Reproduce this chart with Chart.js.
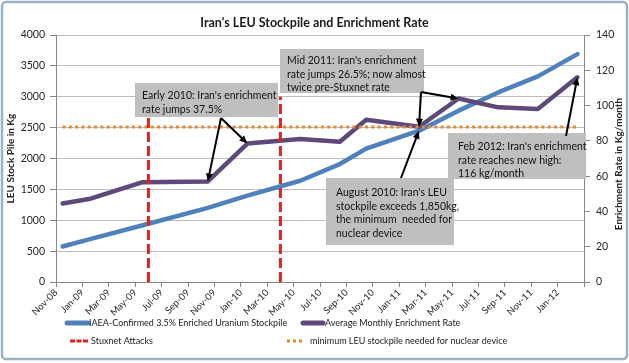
<!DOCTYPE html>
<html>
<head>
<meta charset="utf-8">
<script src="https://cdn.jsdelivr.net/npm/chart.js@4.4.1/dist/chart.umd.min.js"></script>
<style>
  html, body { margin: 0; padding: 0; background: #fff; }
  #wrap { width: 629px; height: 363px; }
</style>
</head>
<body>
<div id="wrap"><canvas id="chart" width="629" height="363"></canvas></div>
<script>
// x axis labels, one every two months
const tickLabels = ['Nov-08', 'Jan-09', 'Mar-09', 'May-09', 'Jul-09', 'Sep-09', 'Nov-09', 'Jan-10', 'Mar-10', 'May-10',
    'Jul-10', 'Sep-10', 'Nov-10', 'Jan-11', 'Mar-11', 'May-11', 'Jul-11', 'Sep-11', 'Nov-11', 'Jan-12'];

// IAEA report months
const reportMonths = ['Nov-08', 'Jan-09', 'May-09', 'Oct-09', 'Jan-10', 'May-10', 'Aug-10', 'Oct-10', 'Feb-11', 'May-11', 'Aug-11', 'Nov-11', 'Feb-12'];
// LEU stockpile, kg (left axis)
const stockpileKg = [575, 690, 915, 1200, 1400, 1640, 1910, 2160, 2450, 2775, 3070, 3330, 3690];
// enrichment rate, kg/month (right axis)
const enrichRate = [44.5, 47, 56.5, 57, 78.5, 81, 79.5, 92, 88, 104, 99, 98, 116];

const stuxnetMonths = ['Jun-09', 'Apr-10'];
const stuxnetTop = 3000;
const minLeuKg = 2510;

const FONT = "Lato, 'Liberation Sans', sans-serif";
const MON = ['Jan', 'Feb', 'Mar', 'Apr', 'May', 'Jun', 'Jul', 'Aug', 'Sep', 'Oct', 'Nov', 'Dec'];

// months since start of Nov-08
function monthIndex(s) {
    const [m, y] = s.split('-');
    return (2000 + Number(y)) * 12 + MON.indexOf(m) - (2008 * 12 + 10);
}

const stockPoints = reportMonths.map((m, i) => ({ x: monthIndex(m) + 0.5, y: stockpileKg[i] }));
const ratePoints = reportMonths.map((m, i) => ({ x: monthIndex(m) + 0.5, y: enrichRate[i] }));
const stuxnetPoints = stuxnetMonths.flatMap(m => [
    { x: monthIndex(m), y: 0 }, { x: monthIndex(m), y: stuxnetTop }, { x: monthIndex(m), y: null }
]);
const minLeuPoints = [
    { x: monthIndex(reportMonths[0]) + 0.5, y: minLeuKg },
    { x: monthIndex(reportMonths[reportMonths.length - 1]) + 0.5, y: minLeuKg }
];

// call-out boxes (pixels) with arrows to data points
const notes = [
    { lines: ["Early 2010: Iran's enrichment", 'rate jumps 37.5%'], box: [135, 83, 143, 34], textX: 142, textY: 96,
      from: [221, 118], to: [[1, 'Oct-09'], [1, 'Jan-10']] },
    { lines: ["Mid 2011: Iran's enrichment", 'rate jumps 26.5%; now almost', 'twice pre-Stuxnet rate'], box: [280, 49, 144, 44], textX: 287, textY: 61,
      from: [421, 92], to: [[1, 'Feb-11'], [1, 'May-11']] },
    { lines: ["Feb 2012: Iran's enrichment", 'rate reaches new high:', '116 kg/month'], box: [448, 133, 138, 46], textX: 458, textY: 147,
      from: [566, 136], to: [[1, 'Feb-12']] },
    { lines: ["August 2010: Iran's LEU", 'stockpile exceeds 1,850kg,', 'the minimum  needed for', 'nuclear device'], box: [326, 178, 128, 67], textX: 336, textY: 193,
      from: [401, 178], to: [[0, 'Feb-11']] }
];

// legend slots: swatch start, length, text start
const legendSlots = [
    { x: 67, y: 323, len: 21, tx: 89 },
    { x: 303, y: 323, len: 20, tx: 325 },
    { x: 70, y: 341, len: 18, tx: 91 },
    { x: 287, y: 341, len: 16, tx: 310 }
];

function arrow(ctx, x1, y1, x2, y2) {
    const a = Math.atan2(y2 - y1, x2 - x1);
    const head = 8;
    ctx.beginPath();
    ctx.moveTo(x1, y1);
    ctx.lineTo(x2 - Math.cos(a) * head * 0.8, y2 - Math.sin(a) * head * 0.8);
    ctx.stroke();
    ctx.beginPath();
    ctx.moveTo(x2, y2);
    ctx.lineTo(x2 - head * Math.cos(a) + 3.5 * Math.sin(a), y2 - head * Math.sin(a) - 3.5 * Math.cos(a));
    ctx.lineTo(x2 - head * Math.cos(a) - 3.5 * Math.sin(a), y2 - head * Math.sin(a) + 3.5 * Math.cos(a));
    ctx.closePath();
    ctx.fill();
}

const extras = {
    id: 'extras',
    afterDatasetsDraw(chart) {
        const ctx = chart.ctx;
        ctx.save();
        ctx.font = '10.5px ' + FONT;
        ctx.textBaseline = 'middle';
        notes.forEach(n => {
            ctx.fillStyle = '#bfbfbf';
            ctx.fillRect(...n.box);
            ctx.fillStyle = '#111';
            n.lines.forEach((t, i) => ctx.fillText(t, n.textX, n.textY + i * 13.5));
        });
        ctx.strokeStyle = '#000';
        ctx.fillStyle = '#000';
        ctx.lineWidth = 2;
        notes.forEach(n => {
            n.to.forEach(([ds, month]) => {
                const el = chart.getDatasetMeta(ds).data[reportMonths.indexOf(month)];
                arrow(ctx, n.from[0], n.from[1], el.x, el.y);
            });
        });
        ctx.restore();
    },
    afterDraw(chart) {
        const ctx = chart.ctx;
        ctx.save();
        // right axis title, reading bottom to top
        ctx.font = 'bold 10px ' + FONT;
        ctx.fillStyle = '#262626';
        ctx.textAlign = 'center';
        ctx.textBaseline = 'middle';
        ctx.translate(619, 164);
        ctx.rotate(-Math.PI / 2);
        ctx.fillText('Enrichment Rate in Kg/month', 0, 0);
        ctx.restore();

        // legend
        ctx.save();
        ctx.font = '9px ' + FONT;
        ctx.textBaseline = 'middle';
        chart.data.datasets.forEach((ds, i) => {
            const s = legendSlots[i];
            ctx.strokeStyle = ds.borderColor;
            ctx.lineWidth = ds.legendWidth;
            ctx.lineCap = ds.borderDash ? 'butt' : 'round';
            ctx.setLineDash(ds.legendDash || []);
            ctx.beginPath();
            ctx.moveTo(s.x, s.y);
            ctx.lineTo(s.x + s.len, s.y);
            ctx.stroke();
            ctx.setLineDash([]);
            ctx.fillStyle = '#1a1a1a';
            ctx.fillText(ds.label, s.tx, s.y);
        });

        // chart frame
        ctx.strokeStyle = '#9cb0c8';
        ctx.lineWidth = 2.5;
        ctx.beginPath();
        ctx.roundRect(2, 2, 625, 357, 4);
        ctx.stroke();
        ctx.restore();
    }
};

const tickFont = { family: FONT, size: 10.5 };
const axisColor = '#868686';

new Chart(document.getElementById('chart'), {
    type: 'line',
    data: {
        datasets: [
            {
                label: 'IAEA-Confirmed 3.5% Enriched Uranium Stockpile',
                data: stockPoints,
                yAxisID: 'y',
                borderColor: '#4f81bd',
                borderWidth: 4.5,
                borderCapStyle: 'round',
                borderJoinStyle: 'round',
                legendWidth: 5,
                pointRadius: 0,
                order: 3
            },
            {
                label: 'Average Monthly Enrichment Rate',
                data: ratePoints,
                yAxisID: 'y1',
                borderColor: '#5f497a',
                borderWidth: 4.5,
                borderCapStyle: 'round',
                borderJoinStyle: 'round',
                legendWidth: 5,
                pointRadius: 0,
                order: 2
            },
            {
                label: 'Stuxnet Attacks',
                data: stuxnetPoints,
                yAxisID: 'y',
                borderColor: '#e3211f',
                borderWidth: 3,
                borderDash: [10, 4],
                legendDash: [5, 1.5],
                legendWidth: 3,
                spanGaps: false,
                pointRadius: 0,
                order: 0
            },
            {
                label: 'minimum LEU stockpile needed for nuclear device',
                data: minLeuPoints,
                yAxisID: 'y',
                borderColor: '#e08a35',
                borderWidth: 3,
                borderDash: [3, 3.3],
                legendDash: [3, 3],
                legendWidth: 3,
                pointRadius: 0,
                order: 1
            }
        ]
    },
    options: {
        responsive: false,
        animation: false,
        layout: { padding: { left: 0, right: 0, top: 0, bottom: 47 } },
        plugins: {
            legend: { display: false },
            tooltip: { enabled: false },
            title: {
                display: true,
                text: "Iran's LEU Stockpile and Enrichment Rate",
                color: '#1a1a1a',
                font: { family: FONT, size: 12.5, weight: 'bold' },
                padding: { top: 15, bottom: 5 }
            }
        },
        scales: {
            x: {
                type: 'linear',
                min: 0,
                max: 40,
                afterFit: s => { s.height = 34; },
                border: { color: axisColor },
                grid: { drawOnChartArea: false, drawTicks: true, tickLength: 5, color: axisColor },
                ticks: {
                    stepSize: 2,
                    autoSkip: false,
                    maxRotation: 45,
                    minRotation: 45,
                    padding: 0,
                    color: '#262626',
                    font: { family: FONT, size: 9.5 },
                    callback: (v, i) => tickLabels[i] ?? ''
                }
            },
            y: {
                position: 'left',
                min: 0,
                max: 4000,
                afterFit: s => { s.width = 56; },
                border: { color: axisColor },
                grid: { color: '#bdbdbd', tickColor: axisColor, tickLength: 6 },
                ticks: { stepSize: 500, padding: 5, color: '#262626', font: tickFont, callback: v => String(v) },
                title: {
                    display: true,
                    text: 'LEU Stock Pile in Kg',
                    color: '#262626',
                    font: { family: FONT, size: 10, weight: 'bold' },
                    padding: { top: 5, bottom: 0 }
                }
            },
            y1: {
                position: 'right',
                min: 0,
                max: 140,
                afterFit: s => { s.width = 45; },
                border: { color: axisColor },
                grid: { drawOnChartArea: false, tickColor: axisColor, tickLength: 6 },
                ticks: { stepSize: 20, padding: 6, color: '#262626', font: tickFont }
            }
        }
    },
    plugins: [extras]
});
</script>
</body>
</html>
